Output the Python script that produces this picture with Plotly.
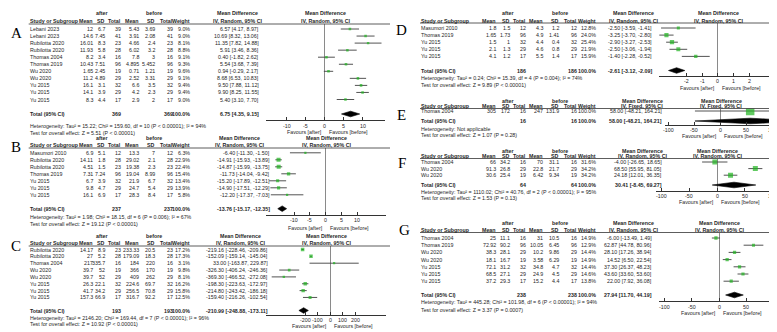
import plotly.graph_objects as go

W, H = 777, 332
FONT = "Liberation Sans, Arial, sans-serif"
SERIF = "Liberation Serif, Times New Roman, serif"
FS = 5.3
TXT = "#262626"
GREEN = "#1fb31f"

# ---------------- DATA ----------------
# Panel A
A_study = ["Lebani 2023", "Lebani 2023", "Rubilotta 2020", "Rubilotta 2020", "Thomas 2004", "Thomas 2019",
           "Wu 2020", "Wu 2020", "Yu 2015", "Yu 2015", "Yu 2015"]
A_after_mean = [12, 14.6, 16.01, 11.93, 8.2, 10.43, 1.65, 11.2, 16.1, 14.1, 8.3]
A_after_sd = [6.7, 7.45, 8.3, 5.8, 3.4, 7.51, 2.45, 4.89, 3.1, 3.9, 4.4]
A_after_n = [39, 41, 23, 28, 16, 96, 19, 29, 32, 29, 17]
A_before_mean = [5.43, 3.91, 4.66, 6.02, 7.8, 4.895, 0.71, 2.52, 6.6, 4.2, 2.9]
A_before_sd = [3.69, 2.08, 2.4, 3.2, 3, 5.452, 1.21, 3.31, 3.5, 2.3, 2]
A_before_n = [39, 41, 23, 28, 16, 96, 19, 29, 32, 29, 17]
A_weight = [9.0, 9.0, 8.1, 8.8, 9.1, 9.3, 9.6, 9.1, 9.4, 9.4, 9.0]
A_md = [6.57, 10.69, 11.35, 5.91, 0.40, 5.54, 0.94, 8.68, 9.50, 9.90, 5.40]
A_lo = [4.17, 8.32, 7.82, 3.46, -1.82, 3.68, -0.29, 6.53, 7.88, 8.25, 3.10]
A_hi = [8.97, 13.06, 14.88, 8.36, 2.62, 7.39, 2.17, 10.83, 11.12, 11.55, 7.70]
A_total = [6.75, 4.35, 9.15]
A_het = "Heterogeneity: Tau² = 15.22; Chi² = 159.60, df = 10 (P < 0.00001); I² = 94%"
A_test = "Test for overall effect: Z = 5.51 (P < 0.00001)"
A_ticks = [-10, -5, 0, 5, 10]

# Panel B
B_study = ["Masumori 2010", "Rubilotta 2020", "Rubilotta 2020", "Thomas 2019", "Yu 2015", "Yu 2015", "Yu 2015"]
B_after_mean = [6.9, 14.11, 4.51, 7.31, 6.7, 9.8, 16.1]
B_after_sd = [5.1, 1.8, 1.5, 7.24, 3.9, 4.7, 6.9]
B_after_n = [12, 28, 23, 96, 32, 29, 17]
B_before_mean = [13.3, 29.02, 19.38, 19.04, 21.9, 24.7, 28.3]
B_before_sd = [7, 2.1, 2.3, 8.99, 6.7, 5.4, 8.4]
B_before_n = [12, 28, 23, 96, 32, 29, 17]
B_weight = [6.3, 22.9, 22.4, 15.4, 13.4, 13.9, 5.8]
B_md = [-6.40, -14.91, -14.87, -11.73, -15.20, -14.90, -12.20]
B_lo = [-11.30, -15.93, -15.99, -14.04, -17.89, -17.51, -17.37]
B_hi = [-1.50, -13.89, -13.75, -9.42, -12.51, -12.29, -7.03]
B_total = [-13.76, -15.17, -12.35]
B_het = "Heterogeneity: Tau² = 1.98; Chi² = 18.15, df = 6 (P = 0.006); I² = 67%"
B_test = "Test for overall effect: Z = 19.12 (P < 0.00001)"
B_ticks = [-10, -5, 0, 5, 10]

# Panel C
C_study = ["Rubilotta 2020", "Rubilotta 2020", "Thomas 2004", "Wu 2020", "Wu 2020", "Yu 2015", "Yu 2015", "Yu 2015"]
C_after_mean = [14.17, 27, 217, 39.7, 39.7, 26.3, 41.7, 157.3]
C_after_sd = [8.9, 5.2, 335.7, 52, 52, 22.1, 34.2, 66.9]
C_after_n = [23, 28, 16, 19, 29, 32, 29, 17]
C_before_mean = [233.33, 179.09, 184, 366, 409, 224.6, 256.5, 316.7]
C_before_sd = [20.5, 18.3, 220, 170, 262, 69.7, 70.8, 92.2]
C_before_n = [23, 28, 16, 19, 29, 32, 29, 17]
C_weight = [17.2, 17.3, 3.1, 9.8, 8.1, 16.2, 15.8, 12.5]
C_md = [-219.16, -152.09, 33.00, -326.30, -369.30, -198.30, -214.80, -159.40]
C_lo = [-228.46, -159.14, -163.87, -406.24, -466.52, -223.63, -243.42, -216.26]
C_hi = [-209.86, -145.04, 229.87, -246.36, -272.08, -172.97, -186.18, -102.54]
C_total = [-210.99, -248.88, -173.11]
C_het = "Heterogeneity: Tau² = 2146.20; Chi² = 169.44, df = 7 (P < 0.00001); I² = 96%"
C_test = "Test for overall effect: Z = 10.92 (P < 0.00001)"
C_ticks = [-200, -100, 0, 100, 200]

# Panel D
D_study = ["Masumori 2010", "Thomas 2019", "Yu 2015", "Yu 2015", "Yu 2015"]
D_after_mean = [1.8, 1.65, 1.5, 2.1, 4.1]
D_after_sd = [1.5, 1.73, 1, 1.3, 1.2]
D_after_n = [12, 96, 32, 29, 17]
D_before_mean = [4.3, 4.9, 4.4, 4.6, 5.5]
D_before_sd = [1.2, 1.41, 0.4, 0.8, 1.4]
D_before_n = [12, 96, 32, 29, 17]
D_weight = [12.8, 24.0, 25.4, 21.9, 15.9]
D_md = [-2.50, -3.25, -2.90, -2.50, -1.40]
D_lo = [-3.59, -3.70, -3.27, -3.06, -2.28]
D_hi = [-1.41, -2.80, -2.53, -1.94, -0.52]
D_total = [-2.61, -3.12, -2.09]
D_het = "Heterogeneity: Tau² = 0.24; Chi² = 15.39, df = 4 (P = 0.004); I² = 74%"
D_test = "Test for overall effect: Z = 9.89 (P < 0.00001)"
D_ticks = [-2, -1, 0, 1, 2]

# Panel E
E_study = ["Thomas 2004"]
E_after_mean = [305]
E_after_sd = [172]
E_after_n = [16]
E_before_mean = [247]
E_before_sd = [131.9]
E_before_n = [16]
E_weight = [100.0]
E_md = [58.00]
E_lo = [-48.21]
E_hi = [164.21]
E_total = [58.00, -48.21, 164.21]
E_het = "Heterogeneity: Not applicable"
E_test = "Test for overall effect: Z = 1.07 (P = 0.28)"
E_ticks = [-100, -50, 0, 50, 100]

# Panel F
F_study = ["Thomas 2004", "Wu 2020", "Wu 2020"]
F_after_mean = [66, 91.3, 30.6]
F_after_sd = [34.2, 26.8, 25.4]
F_after_n = [16, 29, 19]
F_before_mean = [70, 22.8, 6.42]
F_before_sd = [31.1, 21.7, 9.34]
F_before_n = [16, 29, 19]
F_weight = [31.6, 34.2, 34.2]
F_md = [-4.00, 68.50, 24.18]
F_lo = [-26.65, 55.95, 12.01]
F_hi = [18.65, 81.05, 36.35]
F_total = [30.41, -8.45, 69.27]
F_het = "Heterogeneity: Tau² = 1110.02; Chi² = 40.76, df = 2 (P < 0.00001); I² = 95%"
F_test = "Test for overall effect: Z = 1.53 (P = 0.13)"
F_ticks = [-100, -50, 0, 50, 100]

# Panel G
G_study = ["Thomas 2004", "Thomas 2019", "Wu 2020", "Wu 2020", "Yu 2015", "Yu 2015", "Yu 2015"]
G_after_mean = [25, 72.92, 38.3, 18.1, 72.1, 68.5, 37.2]
G_after_sd = [11.1, 90.2, 28.1, 16.7, 31.2, 27.1, 29.3]
G_after_n = [16, 96, 29, 19, 32, 29, 17]
G_before_mean = [31, 10.05, 10.2, 3.58, 34.8, 24.9, 15.2]
G_before_sd = [10.5, 6.45, 9.86, 6.29, 4.7, 4.5, 4.4]
G_before_n = [16, 96, 29, 19, 32, 29, 17]
G_weight = [14.9, 12.9, 14.4, 14.9, 14.4, 14.6, 13.8]
G_md = [-6.00, 62.87, 28.10, 14.52, 37.30, 43.60, 22.00]
G_lo = [-13.49, 44.78, 17.26, 6.50, 26.37, 33.60, 7.92]
G_hi = [1.49, 80.96, 38.94, 22.54, 48.23, 53.60, 36.08]
G_total = [27.94, 11.70, 44.19]
G_het = "Heterogeneity: Tau² = 445.28; Chi² = 101.98, df = 6 (P < 0.00001); I² = 94%"
G_test = "Test for overall effect: Z = 3.37 (P = 0.0007)"
G_ticks = [-100, -50, 0, 50, 100]

# ---------------- LAYOUT GEOMETRY (pixels) ----------------
LEFT_COLS = [86, 98, 114.3, 131.7, 148.3, 165.5, 183]
RIGHT_COLS = [489, 503, 519, 535.5, 552, 569.7, 589]
GEO = {
    "A": dict(letter=(8, 25), sx=20.7, cols=LEFT_COLS, after_c=93, before_c=146, md_r=252, md_c=229,
              plot=(258, 377), xr=[-15.5, 15.8], after_y=5.5, head_y=13.3, line_y=16, row0=21, row_h=7.05,
              total_y=106, het_y=118.3, test_y=125, axis_y=111.7, tick_y=118, fav_y=124, line_end=382),
    "B": dict(letter=(8, 138.5), sx=20.7, cols=LEFT_COLS, after_c=93, before_c=146, md_r=263, md_c=231.7,
              plot=(258, 378), xr=[-18.9, 19.2], after_y=129.8, head_y=136.5, line_y=140, row0=144.8, row_h=7.0,
              total_y=200.7, het_y=209.3, test_y=215.8, axis_y=206.8, tick_y=212, fav_y=219.5, line_end=382),
    "C": dict(letter=(8, 238), sx=20.7, cols=LEFT_COLS, after_c=93, before_c=146, md_r=261, md_c=233,
              plot=(258, 378), xr=[-512, 448], after_y=228, head_y=234.5, line_y=238, row0=241.5, row_h=6.85,
              total_y=302.5, het_y=309.5, test_y=315.5, axis_y=306.7, tick_y=311.5, fav_y=317.5, line_end=382),
    "D": dict(letter=(393, 22), sx=412, cols=RIGHT_COLS, after_c=499, before_c=551.5, md_r=645, md_c=625,
              plot=(651, 770), xr=[-3.72, 3.79], after_y=5, head_y=12.5, line_y=15, row0=20, row_h=7.1,
              total_y=62.5, het_y=70, test_y=77.3, axis_y=68.3, tick_y=73.5, fav_y=80, line_end=776),
    "E": dict(letter=(393, 107), sx=412, cols=RIGHT_COLS, after_c=499, before_c=551.5, md_r=655, md_c=634,
              plot=(657, 769), xr=[-105.8, 109.6], after_y=93, head_y=98, line_y=100.5, row0=103, row_h=7.0,
              total_y=113, het_y=121.3, test_y=127.3, axis_y=117.3, tick_y=121.8, fav_y=127.6, line_end=776),
    "F": dict(letter=(394, 155), sx=412, cols=RIGHT_COLS, after_c=499, before_c=551.5, md_r=655, md_c=634,
              plot=(648, 770), xr=[-109, 109], after_y=143, head_y=148, line_y=150.5, row0=154, row_h=6.6,
              total_y=177, het_y=183.7, test_y=190, axis_y=183, tick_y=188, fav_y=194, line_end=776),
    "G": dict(letter=(396, 222), sx=412, cols=RIGHT_COLS, after_c=499, before_c=551.5, md_r=645, md_c=625,
              plot=(651, 771.5), xr=[-110.5, 110.6], after_y=215, head_y=221.7, line_y=224.5, row0=230, row_h=7.2,
              total_y=287, het_y=294.3, test_y=301.7, axis_y=293.3, tick_y=299, fav_y=305, line_end=776),
}

fig = go.Figure()
annotations = []
shapes = []
axes = {}


def X(x):
    return x / W


def Y(y):
    return 1 - y / H


def txt(x, y, s, anchor="left", bold=False, size=FS, family=FONT, color=TXT, xref="paper"):
    annotations.append(dict(x=X(x) if xref == "paper" else x, y=Y(y), xref=xref, yref="paper",
                            text=f"<b>{s}</b>" if bold else s, showarrow=False,
                            xanchor=anchor, yanchor="middle", borderpad=0,
                            font=dict(size=size, family=family, color=color)))


def fmt(v):
    return f"{v:g}"


def ci(m, l, h):
    return f"{m:.2f} [{l:.2f}, {h:.2f}]"


def panel(key, idx, study, am, asd, an, bm, bsd, bn, wt, md, lo, hi, total, het, test, ticks,
          method="IV, Random, 95% CI", arrow=False):
    g = GEO[key]
    sfx = "" if idx == 1 else str(idx)
    xa, ya = "x" + sfx, "y" + sfx
    x0, x1 = g["plot"]
    xr = g["xr"]
    zero_px = x0 + (0 - xr[0]) / (xr[1] - xr[0]) * (x1 - x0)
    rows = [g["row0"] + i * g["row_h"] for i in range(len(study))]

    axes["xaxis" + sfx] = dict(domain=[X(x0), X(x1)], range=xr, anchor=ya, showline=True, linecolor="#333",
                               linewidth=1, ticks="inside", ticklen=3, tickcolor="#333", tickvals=ticks,
                               showticklabels=False, zeroline=True,
                               zerolinecolor="#8a8a8a", zerolinewidth=1, showgrid=False, fixedrange=True)
    axes["yaxis" + sfx] = dict(domain=[Y(g["axis_y"]), Y(g["line_y"])], range=[g["axis_y"], g["line_y"]],
                               visible=False, showgrid=False, zeroline=False, anchor=xa, fixedrange=True)
    for t in ticks:
        txt(t, g["tick_y"], fmt(t), anchor="center", xref=xa)

    # CI lines
    lx, ly = [], []
    for l, h, r in zip(lo, hi, rows):
        lx += [l, h, None]
        ly += [r, r, None]
    fig.add_trace(go.Scatter(x=lx, y=ly, mode="lines", line=dict(color="#404040", width=0.9),
                             xaxis=xa, yaxis=ya, showlegend=False, hoverinfo="skip"))
    if arrow:
        fig.add_trace(go.Scatter(x=[xr[1]] * len(rows), y=rows, mode="markers",
                                 marker=dict(symbol="triangle-right", size=4, color="#404040"),
                                 xaxis=xa, yaxis=ya, showlegend=False, hoverinfo="skip", cliponaxis=False))
    # squares (area ~ weight)
    sizes = [max(2.2, 0.85 * w ** 0.5) for w in wt]
    fig.add_trace(go.Scatter(x=md, y=rows, mode="markers",
                             marker=dict(symbol="square", size=sizes, color=GREEN, line=dict(width=0)),
                             xaxis=xa, yaxis=ya, showlegend=False, hoverinfo="skip"))
    # pooled diamond
    tm, tl, th = total
    ty = g["total_y"]
    dh = 2.8
    fig.add_trace(go.Scatter(x=[tl, tm, th, tm, tl], y=[ty, ty - dh, ty, ty + dh, ty], mode="lines",
                             fill="toself", fillcolor="#000", line=dict(color="#000", width=0.6),
                             xaxis=xa, yaxis=ya, showlegend=False, hoverinfo="skip"))

    lx0, ly0 = g["letter"]
    txt(lx0, ly0, key, anchor="center", size=15, family=SERIF, color="#000")

    c = g["cols"]
    txt(g["after_c"], g["after_y"], "after", "center", True)
    txt(g["before_c"], g["after_y"], "before", "center", True)
    txt(g["md_c"], g["after_y"], "Mean Difference", "center", True)
    txt((x0 + x1) / 2, g["after_y"], "Mean Difference", "center", True)
    hy = g["head_y"]
    txt(g["sx"], hy, "Study or Subgroup", "left", True)
    for cx, lab in zip(c, ["Mean", "SD", "Total", "Mean", "SD", "Total", "Weight"]):
        txt(cx, hy, lab, "right", True)
    txt(g["md_c"], hy, method, "center", True)
    txt((x0 + x1) / 2, hy, method, "center", True)
    shapes.append(dict(type="line", xref="paper", yref="paper", x0=X(g["sx"]), x1=X(g["line_end"]),
                       y0=Y(g["line_y"]), y1=Y(g["line_y"]), line=dict(color="#333", width=0.8)))

    for i, r in enumerate(rows):
        txt(g["sx"], r, study[i], "left")
        vals = [fmt(am[i]), fmt(asd[i]), str(an[i]), fmt(bm[i]), fmt(bsd[i]), str(bn[i]), f"{wt[i]:.1f}%"]
        for cx, v in zip(c, vals):
            txt(cx, r, v, "right")
        txt(g["md_r"], r, ci(md[i], lo[i], hi[i]), "right")

    ty = g["total_y"]
    txt(g["sx"], ty, "Total (95% CI)", "left", True)
    txt(c[2], ty, str(sum(an)), "right", True)
    txt(c[5], ty, str(sum(bn)), "right", True)
    txt(c[6], ty, "100.0%", "right", True)
    txt(g["md_r"], ty, ci(tm, tl, th), "right", True)
    txt(g["sx"], g["het_y"], het, "left")
    txt(g["sx"], g["test_y"], test, "left")

    txt(zero_px - 2, g["fav_y"], "Favours [after]", "right")
    txt(zero_px + 3, g["fav_y"], "Favours [before]", "left")


panel("A", 1, A_study, A_after_mean, A_after_sd, A_after_n, A_before_mean, A_before_sd, A_before_n,
      A_weight, A_md, A_lo, A_hi, A_total, A_het, A_test, A_ticks)
panel("B", 2, B_study, B_after_mean, B_after_sd, B_after_n, B_before_mean, B_before_sd, B_before_n,
      B_weight, B_md, B_lo, B_hi, B_total, B_het, B_test, B_ticks)
panel("C", 3, C_study, C_after_mean, C_after_sd, C_after_n, C_before_mean, C_before_sd, C_before_n,
      C_weight, C_md, C_lo, C_hi, C_total, C_het, C_test, C_ticks)
panel("D", 4, D_study, D_after_mean, D_after_sd, D_after_n, D_before_mean, D_before_sd, D_before_n,
      D_weight, D_md, D_lo, D_hi, D_total, D_het, D_test, D_ticks)
panel("E", 5, E_study, E_after_mean, E_after_sd, E_after_n, E_before_mean, E_before_sd, E_before_n,
      E_weight, E_md, E_lo, E_hi, E_total, E_het, E_test, E_ticks, method="IV, Fixed, 95% CI", arrow=True)
panel("F", 6, F_study, F_after_mean, F_after_sd, F_after_n, F_before_mean, F_before_sd, F_before_n,
      F_weight, F_md, F_lo, F_hi, F_total, F_het, F_test, F_ticks)
panel("G", 7, G_study, G_after_mean, G_after_sd, G_after_n, G_before_mean, G_before_sd, G_before_n,
      G_weight, G_md, G_lo, G_hi, G_total, G_het, G_test, G_ticks)

fig.update_layout(width=W, height=H, autosize=False, margin=dict(l=0, r=0, t=0, b=0),
                  paper_bgcolor="white", plot_bgcolor="white", showlegend=False,
                  annotations=annotations, shapes=shapes, **axes)

fig.write_html("out.html", config={"displayModeBar": False, "staticPlot": True})
